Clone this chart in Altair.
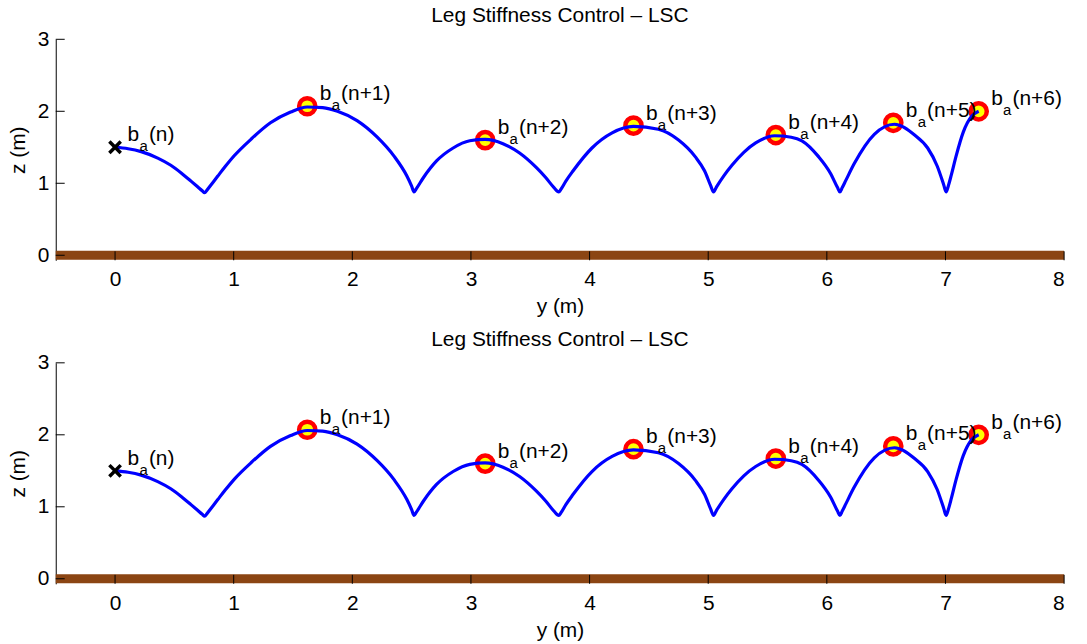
import altair as alt
import pandas as pd

# Body trajectory: horizontal position y and height z, in metres
traj_y = [0.00, 0.11, 0.22, 0.36, 0.47, 0.56, 0.64, 0.70, 0.735, 0.755, 0.775, 0.81,
          0.866, 0.93, 1.006, 1.145, 1.31, 1.48, 1.62, 1.75, 1.875, 2.04, 2.21, 2.35,
          2.46, 2.50, 2.52, 2.54, 2.60, 2.71, 2.85, 2.99, 3.12, 3.27, 3.41, 3.55, 3.63,
          3.70, 3.74, 3.76, 3.80, 3.86, 4.02, 4.19, 4.37, 4.58, 4.75, 4.89, 4.97, 5.02,
          5.045, 5.07, 5.13, 5.20, 5.30, 5.40, 5.56, 5.70, 5.79, 5.93, 6.03, 6.09, 6.11,
          6.13, 6.16, 6.23, 6.40, 6.57, 6.74, 6.85, 6.93, 6.985, 7.005, 7.025, 7.05, 7.09,
          7.15, 7.22, 7.28]
traj_z = [1.50, 1.48, 1.44, 1.35, 1.25, 1.14, 1.03, 0.945, 0.895, 0.87, 0.905, 0.98,
          1.10, 1.235, 1.385, 1.61, 1.84, 1.99, 2.06, 2.05, 2.00, 1.87, 1.64, 1.38,
          1.10, 0.96, 0.88, 0.925, 1.08, 1.31, 1.49, 1.59, 1.61, 1.55, 1.42, 1.22, 1.08,
          0.94, 0.88, 0.92, 1.03, 1.17, 1.49, 1.70, 1.79, 1.75, 1.60, 1.37, 1.17, 0.97,
          0.88, 0.95, 1.10, 1.25, 1.43, 1.56, 1.66, 1.64, 1.59, 1.37, 1.14, 0.94, 0.88,
          0.94, 1.04, 1.27, 1.68, 1.82, 1.67, 1.49, 1.24, 0.98, 0.88, 0.97, 1.12, 1.38,
          1.71, 1.93, 2.00]

# Initial apex state b_a(n)
start_y = [0.0]
start_z = [1.5]
start_tag = ["(n)"]

# Following apex states b_a(n+1) ... b_a(n+6)
apex_y = [1.62, 3.12, 4.37, 5.57, 6.56, 7.28]
apex_z = [2.07, 1.60, 1.80, 1.67, 1.84, 2.00]
apex_tag = ["(n+1)", "(n+2)", "(n+3)", "(n+4)", "(n+5)", "(n+6)"]

# Ground line
ground_y = [-0.5, 8.0]
ground_z = [0.0, 0.0]

y_ticks = [0, 1, 2, 3, 4, 5, 6, 7, 8]
z_ticks = [0, 1, 2, 3]

TITLE = "Leg Stiffness Control – LSC"
FONT = "Liberation Sans"
FS = 21
W, H = 1013, 222
TICK = 9

traj = pd.DataFrame({"y": traj_y, "z": traj_z})
start = pd.DataFrame({"y": start_y, "z": start_z})
apex = pd.DataFrame({"y": apex_y, "z": apex_z})
labels = pd.DataFrame({"y": start_y + apex_y, "z": start_z + apex_z,
                       "tag": start_tag + apex_tag})
ground = pd.DataFrame({"y": ground_y, "z": ground_z})
yt = pd.DataFrame({"y": y_ticks})
zt = pd.DataFrame({"z": z_ticks})

y_scale = alt.Scale(domain=[-0.5, 8], nice=False, zero=False)
z_scale = alt.Scale(domain=[-0.07, 3], nice=False, zero=False)


def X():
    return alt.X("y:Q", scale=y_scale,
                 axis=alt.Axis(values=y_ticks, format="d", title="y (m)", grid=False,
                               ticks=False, tickSize=0, domain=False,
                               labelPadding=8.5, titlePadding=6,
                               labelFont=FONT, labelFontSize=FS, labelColor="black",
                               titleFont=FONT, titleFontSize=FS, titleColor="black",
                               titleFontWeight="normal"))


def Z():
    return alt.Y("z:Q", scale=z_scale,
                 axis=alt.Axis(values=z_ticks, format="d", title="z (m)", grid=False,
                               ticks=False, tickSize=0, domain=True,
                               domainColor="black", domainWidth=1,
                               labelPadding=7, titlePadding=9,
                               labelFont=FONT, labelFontSize=FS, labelColor="black",
                               titleFont=FONT, titleFontSize=FS, titleColor="black",
                               titleFontWeight="normal"))


def panel():
    ground_line = alt.Chart(ground).mark_line(
        color="#8B4513", strokeWidth=9, strokeCap="butt"
    ).encode(x=X(), y=Z())

    x_tick_marks = alt.Chart(yt).mark_rule(color="black", strokeWidth=1).encode(
        x=X(), y=alt.value(H), y2=alt.value(H - TICK))
    z_tick_marks = alt.Chart(zt).mark_rule(color="black", strokeWidth=1).encode(
        y=Z(), x=alt.value(0), x2=alt.value(TICK))

    apex_marks = alt.Chart(apex).mark_point(
        shape="circle", size=265, fill="#FFFF00", fillOpacity=1,
        stroke="#FF0000", strokeWidth=4.5, opacity=1
    ).encode(x=X(), y=Z())

    path = alt.Chart(traj).mark_line(
        color="#0000FF", strokeWidth=3.2, interpolate="monotone"
    ).encode(x=X(), y=Z())

    start_mark = alt.Chart(start).mark_point(
        shape="M-1,-1L1,1M-1,1L1,-1", size=130, filled=False,
        stroke="black", strokeWidth=3.5, opacity=1
    ).encode(x=X(), y=Z())

    text_b = alt.Chart(labels).mark_text(
        text="b", font=FONT, fontSize=FS, align="left", baseline="alphabetic",
        dx=12.5, dy=-6, color="black"
    ).encode(x=X(), y=Z())
    text_a = alt.Chart(labels).mark_text(
        text="a", font=FONT, fontSize=15, align="left", baseline="alphabetic",
        dx=24.5, dy=4, color="black"
    ).encode(x=X(), y=Z())
    text_tag = alt.Chart(labels).mark_text(
        font=FONT, fontSize=FS, align="left", baseline="alphabetic",
        dx=34, dy=-6, color="black"
    ).encode(x=X(), y=Z(), text="tag:N")

    return alt.layer(
        ground_line, x_tick_marks, z_tick_marks, apex_marks, path, start_mark,
        text_b, text_a, text_tag
    ).properties(
        width=W, height=H,
        title=alt.TitleParams(TITLE, font=FONT, fontSize=FS, fontWeight="normal",
                              color="black", anchor="middle", baseline="bottom",
                              offset=-19),
    )


chart = alt.vconcat(panel(), panel(), spacing=12).properties(
    padding={"left": 7, "top": 4, "right": 5, "bottom": 5},
    background="white",
).configure_view(stroke=None)

chart.save("out.html", embed_options={"renderer": "svg", "actions": False})
